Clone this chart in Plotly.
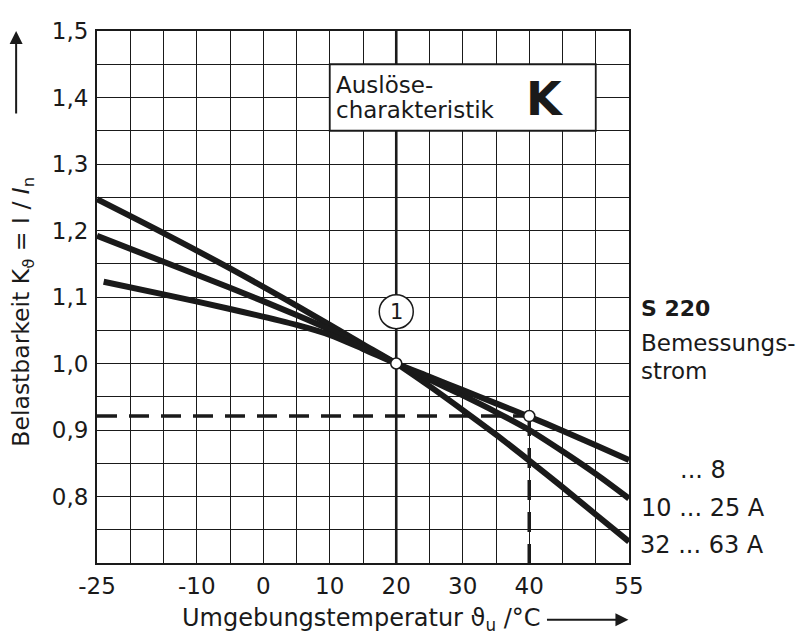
import plotly.graph_objects as go

# ---- data ----
temp_A = [-25, -15, -5, 5, 10, 15, 20, 25, 30, 35, 40, 45, 50, 55]
k_32_63 = [1.247, 1.196, 1.143, 1.087, 1.058, 1.029, 1.000, 0.966, 0.930, 0.893, 0.854, 0.814, 0.773, 0.732]

temp_B = [-25, -15, -5, 5, 10, 15, 20, 25, 30, 35, 40, 45, 50, 55]
k_10_25 = [1.192, 1.153, 1.114, 1.073, 1.051, 1.026, 1.000, 0.976, 0.952, 0.927, 0.900, 0.868, 0.834, 0.797]

temp_C = [-24, -15, -5, 5, 10, 15, 20, 25, 30, 35, 40, 45, 50, 55]
k_up_8 = [1.123, 1.104, 1.082, 1.058, 1.043, 1.022, 1.000, 0.980, 0.960, 0.940, 0.920, 0.899, 0.877, 0.855]

ref_temp = [20, 40]
ref_k = [1.000, 0.921]

x_ticks = [-25, -10, 0, 10, 20, 30, 40, 55]
x_ticktext = ["-25", "-10", "0", "10", "20", "30", "40", "55"]
y_ticks = [0.8, 0.9, 1.0, 1.1, 1.2, 1.3, 1.4, 1.5]
y_ticktext = ["0,8", "0,9", "1,0", "1,1", "1,2", "1,3", "1,4", "1,5"]

curve_labels = ["... 8", "10 ... 25 A", "32 ... 63 A"]

FONT = "DejaVu Sans, Liberation Sans, Arial, sans-serif"
INK = "#1a1a1a"

fig = go.Figure()

# dashed reference lines
fig.add_trace(go.Scatter(x=[-25, ref_temp[1]], y=[ref_k[1], ref_k[1]], mode="lines",
                         line=dict(color=INK, width=3.5, dash="20px,12px"),
                         hoverinfo="skip", showlegend=False))
fig.add_trace(go.Scatter(x=[ref_temp[1], ref_temp[1]], y=[ref_k[1], 0.7], mode="lines",
                         line=dict(color=INK, width=3.5, dash="20px,12px"),
                         hoverinfo="skip", showlegend=False))

for xs, ys in [(temp_A, k_32_63), (temp_B, k_10_25), (temp_C, k_up_8)]:
    fig.add_trace(go.Scatter(x=xs, y=ys, mode="lines",
                             line=dict(color=INK, width=6, shape="spline", smoothing=0.8),
                             showlegend=False))

fig.add_trace(go.Scatter(x=ref_temp, y=ref_k, mode="markers",
                         marker=dict(size=11, color="white", line=dict(color=INK, width=1.5)),
                         showlegend=False))

shapes = [
    # thicker grid line at 20 °C
    dict(type="line", x0=20, x1=20, y0=0.7, y1=1.5, xref="x", yref="y",
         line=dict(color=INK, width=2.6), layer="below"),
    # title box
    dict(type="rect", x0=10, x1=50, y0=1.35, y1=1.45, xref="x", yref="y",
         fillcolor="white", line=dict(color=INK, width=1.8), layer="above"),
    # circle "1"
    dict(type="circle", xref="x", yref="y", xsizemode="pixel", ysizemode="pixel",
         xanchor=20, yanchor=1.078, x0=-17, x1=17, y0=-17, y1=17,
         fillcolor="white", line=dict(color=INK, width=1.5), layer="above"),
]

ann = []
ann.append(dict(x=10.6, y=1.419, xref="x", yref="y", xanchor="left", yanchor="middle",
                text="Auslöse-", showarrow=False, font=dict(family=FONT, size=23, color=INK)))
ann.append(dict(x=10.6, y=1.381, xref="x", yref="y", xanchor="left", yanchor="middle",
                text="charakteristik", showarrow=False, font=dict(family=FONT, size=23, color=INK)))
ann.append(dict(x=42.4, y=1.398, xref="x", yref="y", xanchor="center", yanchor="middle",
                text="<b>K</b>", showarrow=False, font=dict(family=FONT, size=46, color=INK)))
ann.append(dict(x=20, y=1.078, xref="x", yref="y", text="1", showarrow=False,
                font=dict(family=FONT, size=21, color=INK)))

# right side labels
ann.append(dict(x=1.018, y=0.479, xref="paper", yref="paper", xanchor="left", yanchor="middle",
                text="<b>S 220</b>", showarrow=False, font=dict(family=FONT, size=22, color=INK)))
ann.append(dict(x=1.018, y=0.413, xref="paper", yref="paper", xanchor="left", yanchor="middle",
                text="Bemessungs-", showarrow=False, font=dict(family=FONT, size=23, color=INK)))
ann.append(dict(x=1.018, y=0.360, xref="paper", yref="paper", xanchor="left", yanchor="middle",
                text="strom", showarrow=False, font=dict(family=FONT, size=23, color=INK)))
label_pos = [(1.093, 0.174), (1.018, 0.103), (1.016, 0.033)]
for t, (px, py) in zip(curve_labels, label_pos):
    ann.append(dict(x=px, y=py, xref="paper", yref="paper", xanchor="left", yanchor="middle",
                    text=t, showarrow=False, font=dict(family=FONT, size=24, color=INK)))

# axis titles
ann.append(dict(x=-0.140, y=0.4716, xref="paper", yref="paper", textangle=-90,
                xanchor="center", yanchor="middle", showarrow=False,
                text="Belastbarkeit K<sub>ϑ</sub> = I / <i>I</i><sub>n</sub>",
                font=dict(family=FONT, size=23.5, color=INK)))
ann.append(dict(x=0.838, y=-0.107, xref="paper", yref="paper", xanchor="right", yanchor="middle",
                showarrow=False, text="Umgebungstemperatur ϑ<sub>u</sub> /°C",
                font=dict(family=FONT, size=24, color=INK)))
# arrows
ann.append(dict(x=-0.152, y=1.0, xref="paper", yref="paper", ax=0, ay=84,
                text="", showarrow=True, arrowhead=2, arrowsize=1.3, arrowwidth=2, arrowcolor=INK))
ann.append(dict(x=0.999, y=-0.1065, xref="paper", yref="paper", ax=-83, ay=0,
                text="", showarrow=True, arrowhead=2, arrowsize=1.3, arrowwidth=2, arrowcolor=INK))

fig.update_layout(
    width=805, height=639,
    margin=dict(l=89, r=184, t=10, b=84),
    paper_bgcolor="white", plot_bgcolor="white",
    font=dict(family=FONT, size=23, color=INK),
    shapes=shapes, annotations=ann,
    showlegend=False,
)
fig.update_xaxes(range=[-25, 55], tickvals=x_ticks, ticktext=x_ticktext, showgrid=True,
                 gridcolor=INK, gridwidth=1.4,
                 minor=dict(tick0=-25, dtick=5, showgrid=True, gridcolor=INK, gridwidth=1.4),
                 showline=True, linecolor=INK, linewidth=2, mirror=True, zeroline=False,
                 ticks="", ticklabelstandoff=1, ticklabeloverflow="allow", tickfont=dict(size=23))
fig.update_yaxes(range=[0.7, 1.5], tickvals=y_ticks, ticktext=y_ticktext, showgrid=True,
                 gridcolor=INK, gridwidth=1.4,
                 minor=dict(tick0=0.7, dtick=0.05, showgrid=True, gridcolor=INK, gridwidth=1.4),
                 showline=True, linecolor=INK, linewidth=2, mirror=True, zeroline=False,
                 ticks="", ticklabelstandoff=2, ticklabeloverflow="allow", tickfont=dict(size=23))

fig.write_html("out.html")
